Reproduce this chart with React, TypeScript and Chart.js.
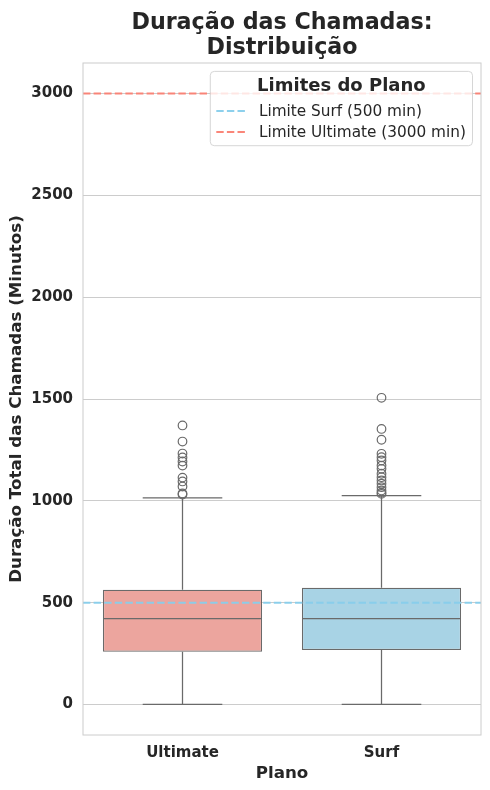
import React, { useEffect, useRef } from 'react';
import { Chart, registerables } from 'chart.js';

Chart.register(...registerables);

const categories = ['Ultimate', 'Surf'];
const q1Values = [259, 268];
const medianValues = [421, 421];
const q3Values = [563, 573];
const whiskerLow = [0, 0];
const whiskerHigh = [1015, 1025];
const outliersUltimate = [1370, 1291, 1232, 1213, 1193, 1173, 1114, 1095, 1070, 1036, 1031];
const outliersSurf = [1506, 1353, 1300, 1231, 1214, 1198, 1173, 1157, 1133, 1116, 1100, 1084, 1067, 1051, 1040, 1034];
const yTicks = [0, 500, 1000, 1500, 2000, 2500, 3000];
const limitSurf = 500;
const limitUltimate = 3000;
const legendTitle = 'Limites do Plano';
const legendLabels = ['Limite Surf (500 min)', 'Limite Ultimate (3000 min)'];
const titleLines = ['Duração das Chamadas:', 'Distribuição'];

const FONT = "'DejaVu Sans', sans-serif";
const TEXT = '#262626';
const GRID = '#cccccc';
const LINE_GRAY = '#6a6a6a';
const boxColors = ['#eca59e', '#a8d3e5'];
const surfLineColor = 'rgba(135,206,235,0.95)';
const ultLineColor = 'rgba(250,128,114,0.95)';

const extrasPlugin = {
  id: 'boxExtras',
  afterDatasetsDraw(chart: any) {
    const { ctx, chartArea } = chart;
    const x = chart.scales.x;
    const y = chart.scales.y;
    const meta = chart.getDatasetMeta(0);
    ctx.save();
    ctx.strokeStyle = LINE_GRAY;
    ctx.lineWidth = 1.25;
    categories.forEach((_, i) => {
      const bar: any = meta.data[i];
      const half = bar.width / 2;
      const cx = x.getPixelForValue(i);
      const yMed = y.getPixelForValue(medianValues[i]);
      const yQ1 = y.getPixelForValue(q1Values[i]);
      const yQ3 = y.getPixelForValue(q3Values[i]);
      const yLo = y.getPixelForValue(whiskerLow[i]);
      const yHi = y.getPixelForValue(whiskerHigh[i]);
      ctx.beginPath();
      ctx.moveTo(cx - half + 1, yMed);
      ctx.lineTo(cx + half - 1, yMed);
      ctx.moveTo(cx, yQ1);
      ctx.lineTo(cx, yLo);
      ctx.moveTo(cx, yQ3);
      ctx.lineTo(cx, yHi);
      ctx.moveTo(cx - half / 2, yLo);
      ctx.lineTo(cx + half / 2, yLo);
      ctx.moveTo(cx - half / 2, yHi);
      ctx.lineTo(cx + half / 2, yHi);
      ctx.stroke();
    });
    ctx.lineWidth = 2;
    ctx.setLineDash([7.4, 3.2]);
    const drawLimit = (v: number, color: string) => {
      const py = y.getPixelForValue(v);
      ctx.strokeStyle = color;
      ctx.beginPath();
      ctx.moveTo(chartArea.left, py);
      ctx.lineTo(chartArea.right, py);
      ctx.stroke();
    };
    drawLimit(limitSurf, surfLineColor);
    drawLimit(limitUltimate, ultLineColor);
    ctx.restore();
  },
  afterDraw(chart: any) {
    const { ctx, chartArea } = chart;
    ctx.save();
    ctx.strokeStyle = GRID;
    ctx.lineWidth = 1;
    ctx.setLineDash([]);
    ctx.strokeRect(chartArea.left, chartArea.top, chartArea.right - chartArea.left, chartArea.bottom - chartArea.top);

    ctx.fillStyle = TEXT;
    ctx.font = `bold 22.2px ${FONT}`;
    ctx.textAlign = 'center';
    ctx.textBaseline = 'middle';
    const tcx = (chartArea.left + chartArea.right) / 2;
    ctx.fillText(titleLines[0], tcx, 23.5);
    ctx.fillText(titleLines[1], tcx, 48.5);

    const entryFont = `15.3px ${FONT}`;
    const titleFont = `bold 18px ${FONT}`;
    ctx.font = entryFont;
    const maxText = Math.max(...legendLabels.map((t) => ctx.measureText(t).width));
    ctx.font = titleFont;
    const titleW = ctx.measureText(legendTitle).width;
    const innerW = Math.max(titleW, 30 + 12.6 + maxText);
    const boxW = innerW + 6 + 6.6;
    const boxH = 74.3;
    const boxRight = chartArea.right - 8.5;
    const boxLeft = boxRight - boxW;
    const boxTop = chartArea.top + 8.4;
    ctx.beginPath();
    if ((ctx as any).roundRect) (ctx as any).roundRect(boxLeft, boxTop, boxW, boxH, 4);
    else ctx.rect(boxLeft, boxTop, boxW, boxH);
    ctx.fillStyle = 'rgba(255,255,255,0.8)';
    ctx.fill();
    ctx.strokeStyle = 'rgba(204,204,204,0.8)';
    ctx.lineWidth = 1;
    ctx.stroke();

    ctx.fillStyle = TEXT;
    ctx.font = titleFont;
    ctx.textAlign = 'center';
    ctx.fillText(legendTitle, boxLeft + boxW / 2, boxTop + 14.5);

    const colors = [surfLineColor, ultLineColor];
    legendLabels.forEach((label, i) => {
      const ey = boxTop + 39.5 + i * 21;
      ctx.strokeStyle = colors[i];
      ctx.lineWidth = 2;
      ctx.setLineDash([7.4, 3.2]);
      ctx.beginPath();
      ctx.moveTo(boxLeft + 6, ey);
      ctx.lineTo(boxLeft + 36, ey);
      ctx.stroke();
      ctx.setLineDash([]);
      ctx.fillStyle = TEXT;
      ctx.font = entryFont;
      ctx.textAlign = 'left';
      ctx.fillText(label, boxLeft + 6 + 30 + 12.6, ey + 1);
    });
    ctx.restore();
  },
};

export default function App() {
  const canvasRef = useRef<HTMLCanvasElement | null>(null);

  useEffect(() => {
    if (!canvasRef.current) return;
    const outlierPoints = [
      ...outliersUltimate.map((v) => ({ x: categories[0], y: v })),
      ...outliersSurf.map((v) => ({ x: categories[1], y: v })),
    ];
    const chart = new Chart(canvasRef.current, {
      type: 'bar',
      data: {
        labels: categories,
        datasets: [
          {
            type: 'bar',
            data: categories.map((_, i) => [q1Values[i], q3Values[i]]) as any,
            backgroundColor: boxColors,
            borderColor: LINE_GRAY,
            borderWidth: 1.25,
            borderSkipped: false,
            barPercentage: 0.8,
            categoryPercentage: 1,
            order: 2,
          } as any,
          {
            type: 'line',
            data: outlierPoints as any,
            showLine: false,
            pointRadius: 4.3,
            pointBorderColor: LINE_GRAY,
            pointBackgroundColor: 'rgba(0,0,0,0)',
            pointBorderWidth: 1.2,
            order: 1,
          } as any,
        ],
      },
      options: {
        responsive: false,
        animation: false,
        devicePixelRatio: 1,
        layout: { padding: { top: 63, right: 9, left: 0, bottom: 0 } },
        plugins: {
          legend: { display: false },
          title: { display: false },
          tooltip: { enabled: false },
        },
        scales: {
          x: {
            type: 'category',
            grid: { display: false },
            border: { display: false },
            ticks: {
              color: TEXT,
              padding: 1,
              font: { family: FONT, weight: 'bold', size: 15 },
            },
            title: {
              display: true,
              text: 'Plano',
              color: TEXT,
              font: { family: FONT, weight: 'bold', size: 16.7 },
              padding: { top: 0, bottom: 6.5 },
            },
            afterFit: (s: any) => {
              s.height = 55;
            },
          },
          y: {
            type: 'linear',
            min: -150,
            max: 3150,
            afterBuildTicks: (a: any) => {
              a.ticks = yTicks.map((v) => ({ value: v }));
            },
            grid: { color: GRID, lineWidth: 1, drawTicks: false },
            border: { display: false },
            ticks: {
              color: TEXT,
              padding: 10,
              callback: (v: any) => String(v),
              font: { family: FONT, weight: 'bold', size: 15 },
            },
            title: {
              display: true,
              text: 'Duração Total das Chamadas (Minutos)',
              color: TEXT,
              font: { family: FONT, weight: 'bold', size: 16.7 },
              padding: { top: 7, bottom: 0 },
            },
            afterFit: (s: any) => {
              s.width = 83;
            },
          },
        },
      } as any,
      plugins: [extrasPlugin],
    });
    return () => chart.destroy();
  }, []);

  return (
    <div style={{ position: 'fixed', left: 0, top: 0, width: 490, height: 790, background: '#ffffff' }}>
      <canvas ref={canvasRef} width={490} height={790} style={{ width: 490, height: 790, display: 'block' }} />
    </div>
  );
}
